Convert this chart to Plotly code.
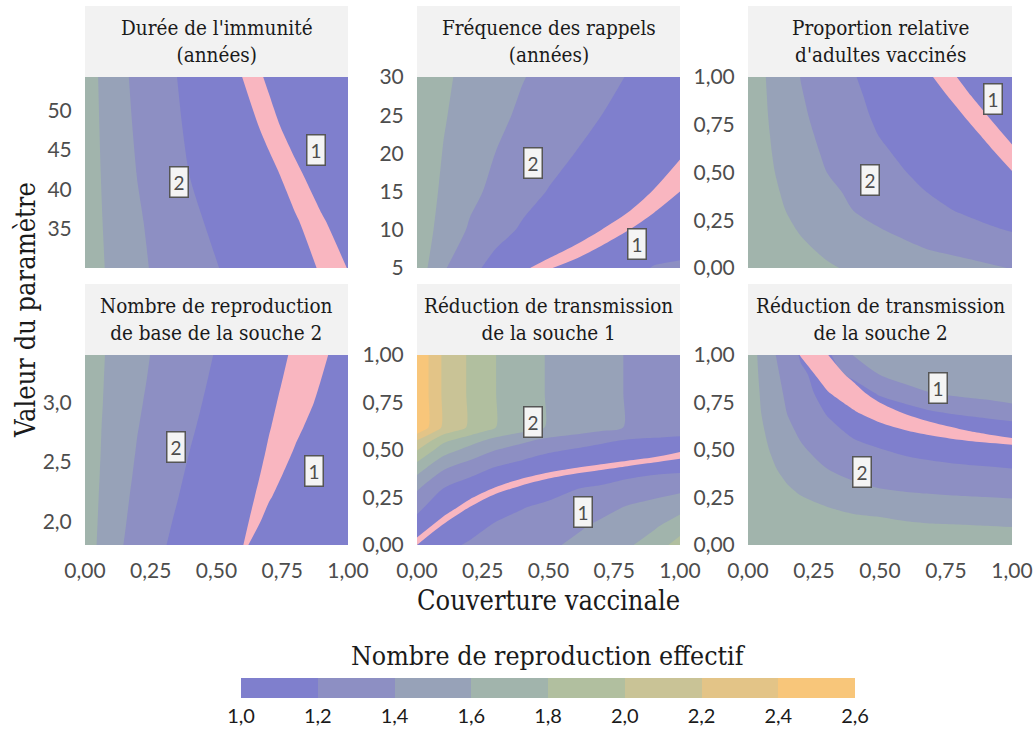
import numpy as np
import plotly.graph_objects as go

# ---------------- data ----------------
COV = [0.0, 0.1, 0.2, 0.3, 0.4, 0.5, 0.6, 0.7, 0.8, 0.9, 1.0]
COV6 = [0.0, 0.05, 0.1, 0.15, 0.2, 0.3, 0.4, 0.5, 0.6, 0.7, 0.8, 0.9, 1.0]

TITLES = ["Durée de l'immunité<br>(années)",
          "Fréquence des rappels<br>(années)",
          "Proportion relative<br>d'adultes vaccinés",
          "Nombre de reproduction<br>de base de la souche 2",
          "Réduction de transmission<br>de la souche 1",
          "Réduction de transmission<br>de la souche 2"]

LEVEL_TICKS = [1.0, 1.2, 1.4, 1.6, 1.8, 2.0, 2.2, 2.4, 2.6]
LEVEL_TEXT = ["1,0", "1,2", "1,4", "1,6", "1,8", "2,0", "2,2", "2,4", "2,6"]
BIN_COLORS = ['#7f7fcd', '#8d8fc3', '#97a2b8', '#a1b4ac',
              '#b1bf9f', '#c9c396', '#e3c487', '#f8c67a']
BAND_COLOR = '#f9b6c0'

# Panel 1 : durée de l'immunité
P1_Y = [30, 36, 42, 48, 54.3]
P1_R = [
    [1.72, 1.56, 1.46, 1.32, 1.27, 1.21, 1.11, 1.07, 1.05, 1.05, 1.06],
    [1.72, 1.54, 1.42, 1.33, 1.25, 1.15, 1.10, 1.06, 1.05, 1.06, 1.08],
    [1.72, 1.52, 1.395, 1.30, 1.195, 1.12, 1.08, 1.05, 1.05, 1.07, 1.09],
    [1.72, 1.50, 1.375, 1.30, 1.157, 1.09, 1.06, 1.05, 1.07, 1.09, 1.11],
    [1.72, 1.48, 1.36, 1.26, 1.14, 1.08, 1.05, 1.06, 1.08, 1.10, 1.12],
]
P1_S = [
    [-7.73, -6.85, -5.97, -5.10, -4.22, -3.34, -2.46, -1.59, -0.71, 0.17, 1.04],
    [-8.06, -7.07, -6.08, -5.09, -4.10, -3.11, -2.12, -1.13, -0.14, 0.85, 1.84],
    [-8.30, -7.18, -6.06, -4.93, -3.81, -2.69, -1.56, -0.44, 0.69, 1.81, 2.93],
    [-8.06, -6.84, -5.62, -4.40, -3.18, -1.96, -0.74, 0.48, 1.70, 2.91, 4.13],
    [-7.48, -6.23, -4.98, -3.73, -2.48, -1.23, 0.03, 1.28, 2.53, 3.78, 5.03],
]

# Panel 2 : fréquence des rappels
P2_Y = [5, 10, 15, 20, 25, 30]
P2_R = [
    [1.72, 1.42, 1.266, 1.12, 1.07, 1.04, 1.04, 1.08, 1.14, 1.21, 1.24],
    [1.72, 1.529, 1.379, 1.277, 1.175, 1.12, 1.07, 1.04, 1.04, 1.05, 1.04],
    [1.72, 1.57, 1.448, 1.352, 1.272, 1.192, 1.13, 1.08, 1.05, 1.04, 1.04],
    [1.72, 1.594, 1.495, 1.397, 1.331, 1.266, 1.199, 1.15, 1.10, 1.07, 1.05],
    [1.72, 1.614, 1.527, 1.442, 1.371, 1.314, 1.257, 1.201, 1.15, 1.11, 1.08],
    [1.72, 1.63, 1.551, 1.48, 1.408, 1.353, 1.30, 1.247, 1.194, 1.15, 1.12],
]
P2_S = [
    [6, 5, 4, 2.9, 1.38, 0.115, -0.616, -1.38, -2.06, -2.32, -2.38],
    [10, 9, 8, 7.1, 5.23, 3.71, 2.09, 1.01, 0.06, -0.71, -1.19],
    [14, 13, 12, 11.3, 9.08, 7.31, 4.79, 3.40, 2.18, 0.90, 0.0],
    [18, 17, 16, 15.4, 12.9, 10.9, 7.49, 5.79, 4.30, 2.52, 1.19],
    [22, 21, 20, 19.6, 16.8, 14.5, 10.2, 8.19, 6.42, 4.13, 2.38],
    [26, 25, 24, 23.8, 20.6, 18.1, 12.9, 10.6, 8.53, 5.74, 3.57],
]

# Panel 3 : proportion relative d'adultes vaccinés
P3_Y = [0.0, 0.1, 0.2, 0.3, 0.4, 0.5, 0.6, 0.7, 0.8, 0.9, 1.0]
P3_R = [
    [1.72, 1.685, 1.65, 1.615, 1.582, 1.551, 1.519, 1.488, 1.456, 1.425, 1.394],
    [1.72, 1.671, 1.623, 1.575, 1.527, 1.479, 1.431, 1.39, 1.36, 1.33, 1.30],
    [1.72, 1.654, 1.589, 1.528, 1.467, 1.406, 1.361, 1.317, 1.274, 1.230, 1.187],
    [1.72, 1.634, 1.554, 1.477, 1.399, 1.347, 1.295, 1.242, 1.19, 1.14, 1.10],
    [1.72, 1.618, 1.528, 1.440, 1.366, 1.305, 1.243, 1.185, 1.14, 1.10, 1.07],
    [1.72, 1.602, 1.50, 1.399, 1.333, 1.267, 1.201, 1.15, 1.10, 1.06, 1.04],
    [1.72, 1.588, 1.472, 1.373, 1.301, 1.229, 1.164, 1.11, 1.07, 1.05, 1.04],
    [1.72, 1.575, 1.448, 1.351, 1.271, 1.193, 1.13, 1.08, 1.05, 1.04, 1.06],
    [1.72, 1.562, 1.427, 1.332, 1.247, 1.169, 1.11, 1.07, 1.04, 1.05, 1.07],
    [1.72, 1.552, 1.411, 1.316, 1.225, 1.157, 1.10, 1.06, 1.04, 1.06, 1.08],
    [1.72, 1.542, 1.396, 1.302, 1.207, 1.145, 1.09, 1.05, 1.05, 1.07, 1.09],
]
P3_S = [
    [-15.0, -13.89, -12.78, -11.67, -10.56, -9.44, -8.33, -7.22, -6.11, -5.0, -3.89],
    [-14.22, -13.11, -12.0, -10.89, -9.78, -8.67, -7.56, -6.44, -5.33, -4.22, -3.11],
    [-13.44, -12.33, -11.22, -10.11, -9.0, -7.89, -6.78, -5.67, -4.56, -3.44, -2.33],
    [-12.67, -11.56, -10.44, -9.33, -8.22, -7.11, -6.0, -4.89, -3.78, -2.67, -1.56],
    [-11.89, -10.78, -9.67, -8.56, -7.44, -6.33, -5.22, -4.11, -3.0, -1.89, -0.78],
    [-11.17, -10.06, -8.94, -7.83, -6.72, -5.61, -4.5, -3.39, -2.28, -1.17, -0.06],
    [-10.44, -9.33, -8.22, -7.11, -6.0, -4.89, -3.78, -2.67, -1.56, -0.44, 0.67],
    [-9.74, -8.63, -7.52, -6.41, -5.30, -4.19, -3.08, -1.97, -0.86, 0.26, 1.37],
    [-9.06, -7.94, -6.83, -5.72, -4.61, -3.50, -2.39, -1.28, -0.17, 0.94, 2.06],
    [-8.40, -7.29, -6.18, -5.07, -3.96, -2.84, -1.73, -0.62, 0.49, 1.60, 2.71],
    [-7.79, -6.68, -5.57, -4.46, -3.34, -2.23, -1.12, -0.01, 1.10, 2.21, 3.32],
]

# Panel 4 : nombre de reproduction de base de la souche 2
P4_Y = [1.8, 2.0, 2.2, 2.4, 2.6, 2.8, 3.0, 3.2, 3.4]
P4_R = [
    [1.72, 1.447, 1.345, 1.21, 1.11, 1.07, 1.05, 1.07, 1.09, 1.10, 1.12],
    [1.72, 1.47, 1.349, 1.24, 1.115, 1.07, 1.05, 1.05, 1.07, 1.09, 1.10],
    [1.72, 1.489, 1.36, 1.257, 1.154, 1.09, 1.06, 1.05, 1.06, 1.08, 1.09],
    [1.72, 1.506, 1.375, 1.276, 1.177, 1.11, 1.07, 1.05, 1.05, 1.07, 1.08],
    [1.72, 1.52, 1.39, 1.295, 1.199, 1.13, 1.08, 1.05, 1.05, 1.06, 1.07],
    [1.72, 1.53, 1.405, 1.312, 1.219, 1.137, 1.09, 1.06, 1.05, 1.06, 1.07],
    [1.72, 1.544, 1.419, 1.326, 1.238, 1.155, 1.10, 1.07, 1.05, 1.05, 1.06],
    [1.72, 1.553, 1.433, 1.339, 1.255, 1.173, 1.11, 1.07, 1.05, 1.05, 1.06],
    [1.72, 1.562, 1.445, 1.350, 1.270, 1.19, 1.12, 1.08, 1.05, 1.05, 1.06],
]
P4_S = [
    [-31.7, -26.4, -21.2, -15.9, -10.6, -5.37, -0.11, 5.16, 10.4, 15.7, 20.9],
    [-13.84, -11.62, -9.4, -7.18, -4.96, -2.73, -0.51, 1.71, 3.93, 6.16, 8.38],
    [-9.92, -8.38, -6.85, -5.31, -3.77, -2.23, -0.69, 0.85, 2.38, 3.92, 5.46],
    [-7.85, -6.67, -5.49, -4.32, -3.14, -1.96, -0.79, 0.39, 1.56, 2.74, 3.92],
    [-6.62, -5.65, -4.69, -3.73, -2.77, -1.81, -0.85, 0.12, 1.08, 2.04, 3.0],
    [-5.76, -4.95, -4.14, -3.33, -2.51, -1.70, -0.89, -0.07, 0.74, 1.55, 2.37],
    [-5.21, -4.5, -3.79, -3.07, -2.36, -1.64, -0.93, -0.21, 0.5, 1.21, 1.93],
    [-5.12, -4.44, -3.76, -3.07, -2.39, -1.71, -1.03, -0.35, 0.33, 1.01, 1.69],
    [-5.09, -4.43, -3.76, -3.11, -2.45, -1.79, -1.13, -0.48, 0.18, 0.84, 1.49],
]

# Panel 5 : réduction de transmission de la souche 1
P5_Y = [0.0, 0.1, 0.2, 0.3, 0.4, 0.5, 0.55, 0.6, 0.62, 0.8, 1.0]
P5_R = [
    [1.04, 1.155, 1.22, 1.27, 1.32, 1.37, 1.43, 1.50, 1.57, 1.70, 1.88],
    [1.109, 1.06, 1.14, 1.22, 1.27, 1.32, 1.37, 1.43, 1.49, 1.57, 1.71],
    [1.256, 1.057, 1.05, 1.13, 1.19, 1.24, 1.29, 1.35, 1.41, 1.45, 1.53],
    [1.429, 1.202, 1.094, 1.02, 1.07, 1.12, 1.19, 1.23, 1.29, 1.33, 1.35],
    [1.680, 1.413, 1.286, 1.172, 1.10, 1.032, 1.02, 1.04, 1.10, 1.14, 1.16],
    [2.007, 1.688, 1.537, 1.402, 1.315, 1.233, 1.183, 1.132, 1.081, 1.058, 1.035],
    [2.196, 1.847, 1.681, 1.532, 1.438, 1.349, 1.294, 1.238, 1.183, 1.157, 1.132],
    [2.485, 2.090, 1.902, 1.733, 1.627, 1.526, 1.464, 1.401, 1.339, 1.310, 1.281],
    [2.58, 2.17, 1.975, 1.801, 1.69, 1.585, 1.52, 1.455, 1.39, 1.36, 1.33],
    [2.58, 2.17, 1.975, 1.801, 1.69, 1.585, 1.52, 1.455, 1.39, 1.36, 1.33],
    [2.58, 2.17, 1.975, 1.801, 1.69, 1.585, 1.52, 1.455, 1.39, 1.36, 1.33],
]
P5_S = [
    [0, -2.75, -5, -7.71, -9.0, -10.94, -12.5, -13.17, -14.31, -15.5, -12.61],
    [2.5, -0.25, -2.5, -4.86, -6.14, -7.81, -9.17, -9.83, -10.86, -11.93, -9.83],
    [5.0, 2.25, 0, -2.0, -3.29, -4.69, -5.83, -6.5, -7.41, -8.36, -7.06],
    [7.5, 4.75, 2.5, 0.857, -0.43, -1.56, -2.5, -3.17, -3.97, -4.79, -4.28],
    [10.0, 7.25, 5, 3.71, 2.43, 1.56, 0.83, 0.17, -0.52, -1.21, -1.5],
    [12.5, 9.75, 7.5, 6.57, 5.29, 4.69, 4.17, 3.5, 2.93, 2.36, 1.28],
    [13.75, 11, 8.75, 8.0, 6.71, 6.25, 5.83, 5.17, 4.66, 4.14, 2.67],
    [15.0, 12.25, 10, 9.43, 8.14, 7.81, 7.5, 6.83, 6.38, 5.93, 4.06],
    [15.5, 12.75, 10.5, 10.0, 8.71, 8.44, 8.17, 7.5, 7.07, 6.64, 4.61],
    [20.0, 17.25, 15, 15.14, 13.86, 14.06, 14.17, 13.5, 13.28, 13.07, 9.61],
    [25.0, 22.25, 20, 20.86, 19.57, 20.31, 20.83, 20.17, 20.17, 20.21, 15.17],
]

# Panel 6 : réduction de transmission de la souche 2 (stored column by column)
P6_Y = [0.0, 0.05, 0.1, 0.15, 0.2, 0.3, 0.4, 0.5, 0.6, 0.7, 0.8, 0.9, 1.0]
P6_R_COLS = [
    [1.75, 1.75, 1.75, 1.75, 1.74, 1.74, 1.73, 1.72, 1.72, 1.71, 1.71, 1.70, 1.70],
    [1.74, 1.73, 1.72, 1.71, 1.70, 1.68, 1.66, 1.64, 1.62, 1.599, 1.585, 1.571, 1.557],
    [1.73, 1.72, 1.71, 1.70, 1.68, 1.64, 1.61, 1.574, 1.542, 1.509, 1.477, 1.444, 1.412],
    [1.72, 1.71, 1.70, 1.68, 1.66, 1.61, 1.554, 1.497, 1.441, 1.391, 1.358, 1.326, 1.293],
    [1.71, 1.70, 1.69, 1.67, 1.64, 1.574, 1.499, 1.424, 1.368, 1.322, 1.275, 1.228, 1.18],
    [1.70, 1.69, 1.67, 1.645, 1.601, 1.50, 1.401, 1.327, 1.254, 1.185, 1.125, 1.12, 1.16],
    [1.70, 1.68, 1.655, 1.615, 1.56, 1.436, 1.337, 1.249, 1.166, 1.09, 1.08, 1.255, 1.41],
    [1.69, 1.67, 1.64, 1.598, 1.531, 1.397, 1.302, 1.208, 1.106, 1.05, 1.229, 1.41, 1.46],
    [1.69, 1.66, 1.625, 1.576, 1.505, 1.373, 1.271, 1.166, 1.053, 1.09, 1.36, 1.45, 1.47],
    [1.68, 1.655, 1.615, 1.557, 1.488, 1.36, 1.252, 1.134, 1.04, 1.19, 1.401, 1.46, 1.49],
    [1.68, 1.65, 1.61, 1.543, 1.475, 1.349, 1.234, 1.104, 1.03, 1.233, 1.44, 1.48, 1.51],
    [1.67, 1.64, 1.601, 1.534, 1.467, 1.34, 1.219, 1.084, 1.06, 1.268, 1.47, 1.50, 1.52],
    [1.67, 1.64, 1.595, 1.526, 1.459, 1.329, 1.203, 1.06, 1.094, 1.302, 1.52, 1.53, 1.54],
]
P6_S_COLS = [
    [-10.07, -9.71, -9.34, -8.98, -8.61, -7.88, -7.15, -6.42, -5.69, -4.96, -4.23, -3.50, -2.77],
    [-8.74, -8.40, -8.06, -7.72, -7.38, -6.70, -6.02, -5.34, -4.66, -3.98, -3.30, -2.62, -1.94],
    [-7.42, -7.11, -6.79, -6.48, -6.17, -5.54, -4.92, -4.29, -3.67, -3.04, -2.42, -1.79, -1.17],
    [-6.34, -6.05, -5.76, -5.47, -5.17, -4.59, -4.01, -3.43, -2.85, -2.27, -1.69, -1.10, -0.52],
    [-5.29, -5.03, -4.76, -4.49, -4.22, -3.69, -3.16, -2.62, -2.09, -1.55, -1.02, -0.48, 0.05],
    [-4.22, -3.96, -3.70, -3.44, -3.18, -2.66, -2.15, -1.63, -1.11, -0.59, -0.07, 0.45, 0.96],
    [-4.91, -4.57, -4.22, -3.88, -3.53, -2.84, -2.15, -1.46, -0.77, -0.08, 0.61, 1.30, 1.99],
    [-6.20, -5.72, -5.24, -4.76, -4.28, -3.32, -2.36, -1.39, -0.43, 0.53, 1.49, 2.45, 3.41],
    [-7.18, -6.58, -5.99, -5.39, -4.80, -3.61, -2.42, -1.23, -0.04, 1.15, 2.35, 3.54, 4.73],
    [-8.33, -7.61, -6.88, -6.16, -5.43, -3.99, -2.54, -1.09, 0.36, 1.81, 3.26, 4.71, 6.16],
    [-9.72, -8.84, -7.96, -7.09, -6.21, -4.46, -2.70, -0.95, 0.81, 2.56, 4.32, 6.07, 7.82],
    [-11.72, -10.63, -9.54, -8.46, -7.37, -5.20, -3.02, -0.85, 1.33, 3.50, 5.67, 7.85, 10.02],
    [-15.09, -13.66, -12.23, -10.80, -9.37, -6.51, -3.66, -0.80, 2.06, 4.91, 7.77, 10.63, 13.49],
]

# dominant-strain labels (x, y, text) per panel
LABELS = [
    [(0.878, 45.0, "1"), (0.357, 41.0, "2")],
    [(0.441, 18.8, "2"), (0.837, 8.15, "1")],
    [(0.927, 0.884, "1"), (0.462, 0.463, "2")],
    [(0.346, 2.625, "2"), (0.871, 2.42, "1")],
    [(0.442, 0.647, "2"), (0.633, 0.174, "1")],
    [(0.721, 0.826, "1"), (0.432, 0.384, "2")],
]

Y_RANGES = [[30, 54.3], [5, 30], [0, 1], [1.8, 3.4], [0, 1], [0, 1]]
Y_TICKS = [[35, 40, 45, 50], [5, 10, 15, 20, 25, 30], [0, 0.25, 0.5, 0.75, 1.0],
           [2.0, 2.5, 3.0], [0, 0.25, 0.5, 0.75, 1.0], [0, 0.25, 0.5, 0.75, 1.0]]
Y_FORMATS = ["d", "d", ".2f", ".1f", ".2f", ".2f"]
X_TICKS = [0, 0.25, 0.5, 0.75, 1.0]

PANELS = [
    (COV, P1_Y, P1_R, P1_S),
    (COV, P2_Y, P2_R, P2_S),
    (COV, P3_Y, P3_R, P3_S),
    (COV, P4_Y, P4_R, P4_S),
    (COV, P5_Y, P5_R, P5_S),
    (COV6, P6_Y, np.array(P6_R_COLS).T.tolist(), np.array(P6_S_COLS).T.tolist()),
]

# ---------------- layout geometry (pixels) ----------------
W, H = 1036, 736
COLS_PX = [(85, 348), (417, 680), (748, 1012)]
ROWS_PX = [(77, 268), (355, 545)]
STRIP_H = 71

SERIF = "DejaVu Serif Condensed, DejaVu Serif, serif"
SANS = "Lato, Open Sans, sans-serif"
TICK_COLOR = "#4d4d4d"
CLEAR = "rgba(0,0,0,0)"

n = len(BIN_COLORS)
colorscale = [[i / (n - 1), c] for i, c in enumerate(BIN_COLORS)]
# stepwise scale for the legend bar (one flat block per bin)
step_scale = []
for i, c in enumerate(BIN_COLORS):
    step_scale.append([i / n, c])
    step_scale.append([(i + 1) / n, c])

fig = go.Figure()
shapes = []
annotations = []

for k, (xs, ys, R, S) in enumerate(PANELS):
    row, col = divmod(k, 3)
    ax = "" if k == 0 else str(k + 1)
    xa, ya = "x" + ax, "y" + ax
    fig.add_trace(go.Contour(
        x=xs, y=ys, z=R, xaxis=xa, yaxis=ya,
        autocontour=False,
        contours=dict(start=1.2, end=2.4, size=0.2, coloring="fill", showlines=False),
        colorscale=colorscale,
        line=dict(width=0, smoothing=0.8),
        showscale=False,
        hoverinfo="skip",
    ))
    fig.add_trace(go.Contour(
        x=xs, y=ys, z=S, xaxis=xa, yaxis=ya,
        contours=dict(type="constraint", operation="][", value=[0, 1]),
        fillcolor=BAND_COLOR, line=dict(width=0, color=BAND_COLOR, smoothing=0.8),
        showscale=False, hoverinfo="skip",
    ))

    x0p, x1p = COLS_PX[col]
    y0p, y1p = ROWS_PX[row]
    xdom = [x0p / W, x1p / W]
    ydom = [1 - y1p / H, 1 - y0p / H]
    fig.layout["xaxis" + ax] = dict(
        domain=xdom, anchor=ya, range=[0, 1], showgrid=False, zeroline=False,
        showline=False, ticks="outside", ticklen=7, tickcolor=CLEAR,
        tickmode="array", tickvals=X_TICKS,
        tickformat=".2f", showticklabels=(row == 1),
        tickfont=dict(family=SANS, size=21, color=TICK_COLOR),
    )
    fig.layout["yaxis" + ax] = dict(
        domain=ydom, anchor=xa, range=Y_RANGES[k], showgrid=False, zeroline=False,
        showline=False, ticks="outside", ticklen=8, tickcolor=CLEAR,
        tickmode="array", tickvals=Y_TICKS[k],
        tickformat=Y_FORMATS[k],
        tickfont=dict(family=SANS, size=21, color=TICK_COLOR),
    )
    # strip header
    shapes.append(dict(type="rect", xref="paper", yref="paper",
                       x0=xdom[0], x1=xdom[1], y0=ydom[1], y1=1 - (y0p - STRIP_H) / H,
                       fillcolor="#f2f2f2", line=dict(width=0), layer="below"))
    annotations.append(dict(xref="paper", yref="paper", x=(xdom[0] + xdom[1]) / 2,
                            y=1 - (y0p - STRIP_H / 2) / H, xanchor="center", yanchor="middle",
                            text=TITLES[k], showarrow=False,
                            font=dict(family=SERIF, size=20.5, color="#1a1a1a")))
    for (lx, ly, lt) in LABELS[k]:
        annotations.append(dict(xref=xa, yref=ya, x=lx, y=ly, text=lt, showarrow=False,
                                bgcolor="#f4f4f4", bordercolor="#555555", borderwidth=1.5,
                                borderpad=3, font=dict(family=SANS, size=19, color="#4d4d4d")))

# legend bar for the effective reproduction number bins
fig.add_trace(go.Scatter(
    x=[0.5, 0.5], y=[-100, -100], mode="markers", xaxis="x", yaxis="y",
    marker=dict(color=[LEVEL_TICKS[0], LEVEL_TICKS[-1]], cmin=LEVEL_TICKS[0],
                cmax=LEVEL_TICKS[-1], colorscale=step_scale, opacity=0, showscale=True,
                colorbar=dict(
                    orientation="h", x=(241 + 855) / 2 / W, xanchor="center",
                    y=1 - 722 / H, yanchor="bottom", len=(855 - 241) / W, lenmode="fraction",
                    thickness=20, thicknessmode="pixels", outlinewidth=0, xpad=0, ypad=0,
                    tickmode="array", tickvals=LEVEL_TICKS, ticktext=LEVEL_TEXT,
                    ticks="", tickfont=dict(family=SANS, size=20, color="#1a1a1a"),
                )),
    hoverinfo="skip", showlegend=False,
))

annotations.append(dict(xref="paper", yref="paper", x=548 / W, y=1 - 655 / H,
                        xanchor="center", yanchor="middle",
                        text="Nombre de reproduction effectif", showarrow=False,
                        font=dict(family=SERIF, size=26.5, color="#1a1a1a")))
annotations.append(dict(xref="paper", yref="paper", x=548 / W, y=1 - 600 / H,
                        xanchor="center", yanchor="middle", text="Couverture vaccinale",
                        showarrow=False, font=dict(family=SERIF, size=27, color="#1a1a1a")))
annotations.append(dict(xref="paper", yref="paper", x=25 / W, y=1 - 310 / H,
                        xanchor="center", yanchor="middle", text="Valeur du paramètre",
                        textangle=-90, showarrow=False,
                        font=dict(family=SERIF, size=27, color="#1a1a1a")))

fig.update_layout(
    width=W, height=H, margin=dict(l=0, r=0, t=0, b=0, autoexpand=False),
    paper_bgcolor="white", plot_bgcolor="white",
    separators=", ", showlegend=False,
    shapes=shapes, annotations=annotations,
)

fig.write_html("out.html", config={"displayModeBar": False},
               post_script="document.body.style.margin='0';document.body.style.overflow='hidden';")
